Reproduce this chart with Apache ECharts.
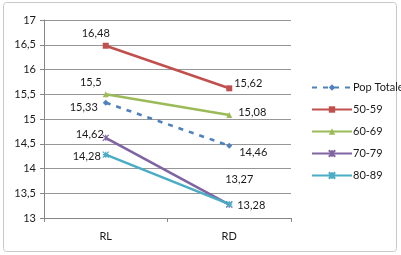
<!DOCTYPE html>
<html><head><meta charset="utf-8">
<script src="https://cdn.jsdelivr.net/npm/echarts@6/dist/echarts.min.js"></script>
<style>html,body{margin:0;padding:0;background:#fff}#c{width:401px;height:255px}</style>
</head><body><div id="c"></div>
<script>
const categories = ['RL', 'RD'];
const seriesNames = ['Pop Totale', '50-59', '60-69', '70-79', '80-89'];
const popTotale = [15.33, 14.46];
const s5059 = [16.48, 15.62];
const s6069 = [15.5, 15.08];
const s7079 = [14.62, 13.27];
const s8089 = [14.28, 13.28];
const yTicks = [13, 13.5, 14, 14.5, 15, 15.5, 16, 16.5, 17];

const colors = ['#4F81BD', '#C0504D', '#9BBB59', '#8064A2', '#4BACC6'];
const fmt = v => String(v).replace('.', ',');
const font = 'Lato, "Open Sans", sans-serif';

// label offsets (style only)
const offsets = [
  [[-22, 5], [24, 7]],
  [[-10, -12], [19, -5]],
  [[-15, -12], [23, -3]],
  [[-16, -3], [10, -25]],
  [[-19, 2], [22, 1]]
];
const symbols = ['diamond', 'rect', 'triangle',
  'path://M0,0 L10,10 M10,0 L0,10 M5,0 L5,10',
  'path://M0,0 L10,10 M10,0 L0,10 M5,0 L5,10 M0,5 L10,5'];
const dataArr = [popTotale, s5059, s6069, s7079, s8089];

const series = dataArr.map((d, i) => ({
  name: seriesNames[i],
  type: 'line',
  data: d.map((v, j) => ({
    value: v,
    label: { offset: offsets[i][j] }
  })),
  symbol: symbols[i],
  symbolSize: 6,
  showAllSymbol: true,
  itemStyle: { color: colors[i], borderColor: colors[i], borderWidth: i >= 3 ? 1.2 : 0 },
  lineStyle: { color: colors[i], width: 2.6, type: i === 0 ? [5, 6] : 'solid' },
  label: {
    show: true, position: 'inside', color: '#1a1a1a', fontSize: 11, fontFamily: font,
    formatter: p => fmt(p.value)
  },
  emphasis: { disabled: true },
  animation: false
}));

const chart = echarts.init(document.getElementById('c'), null, { renderer: 'canvas' });
chart.setOption({
  animation: false,
  graphic: [{
    type: 'rect', shape: { x: 3.5, y: 2.5, width: 393, height: 249, r: 3 },
    style: { fill: 'none', stroke: '#c8c8c8', lineWidth: 1 }, silent: true, z: -1
  }],
  grid: { left: 44, right: 110, top: 20, bottom: 37, containLabel: false },
  legend: {
    orient: 'vertical', left: 306, top: 77,
    itemWidth: 40, itemHeight: 8, itemGap: 11,
    textStyle: { fontSize: 11, fontFamily: font, color: '#1a1a1a', padding: [0, 0, 0, -4] },
    data: seriesNames
  },
  xAxis: {
    type: 'category', data: categories, boundaryGap: true,
    axisLine: { lineStyle: { color: '#868686' } },
    axisTick: { show: true, length: 4, lineStyle: { color: '#868686' } },
    axisLabel: { color: '#1a1a1a', fontSize: 11, fontFamily: font, margin: 13 }
  },
  yAxis: {
    type: 'value', min: 13, max: 17, interval: 0.5,
    axisLine: { show: true, lineStyle: { color: '#868686' } },
    axisTick: { show: true, length: 4, lineStyle: { color: '#868686' } },
    axisLabel: { color: '#1a1a1a', fontSize: 11, fontFamily: font, margin: 8,
      formatter: v => yTicks.includes(v) ? fmt(v) : '' },
    splitLine: { lineStyle: { color: '#969696', width: 1 } }
  },
  series: series
});
</script></body></html>
